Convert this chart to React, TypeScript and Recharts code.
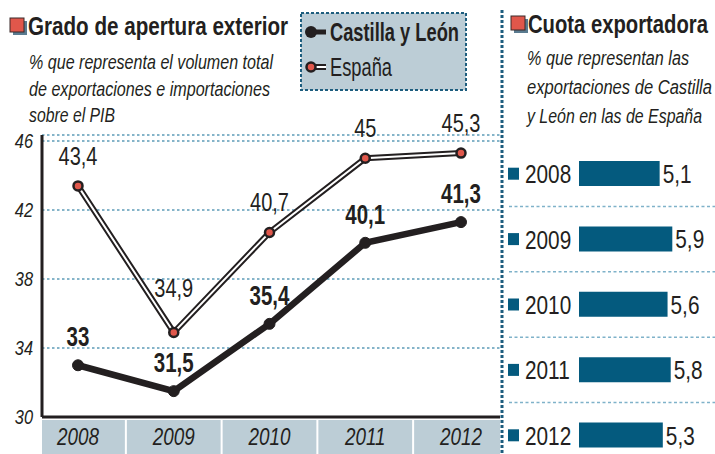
import React from 'react';
import { LineChart, Line, XAxis, YAxis, CartesianGrid, LabelList, Legend, BarChart, Bar } from 'recharts';

// ---------- data ----------
const years = ['2008', '2009', '2010', '2011', '2012'];
const castillaLeon = [33, 31.5, 35.4, 40.1, 41.3];
const espana = [43.4, 34.9, 40.7, 45, 45.3];
const yTicks = [30, 34, 38, 42, 46];
const cuotaYears = ['2008', '2009', '2010', '2011', '2012'];
const cuota = [5.1, 5.9, 5.6, 5.8, 5.3];

const lineData = years.map((y, i) => ({ year: y, cyl: castillaLeon[i], esp: espana[i] }));
const barData = cuotaYears.map((y, i) => ({ year: y, cuota: cuota[i] }));

// ---------- style ----------
const FONT = "'Liberation Sans', Arial, Helvetica, sans-serif";
const DARK = '#231f20';
const RED = '#e0574b';
const BLUE = '#045a7e';
const BAND_BG = '#bccdd6';
const GRID = '#5e9cb8';
const SEP = '#1d5d7e';
const NARROW = 0.82;
const FIT = 0.7;

const fmt = (v: number) => String(v).replace('.', ',');

// left chart layout
const L_W = 500;
const L_H = 454;
const L_LEFT = 42;
const L_TOP = 135;
const X_AXIS_H = 37;
const PAD_L = 36;
const PAD_R = 39;
const STEP = (L_W - L_LEFT - PAD_L - PAD_R) / (years.length - 1);

// right chart layout
const R_LEFT = 503;
const R_TOP = 141;
const R_W = 212;
const R_H = 327;
const R_BAND = R_H / cuotaYears.length;

type TP = {
  x: number;
  y: number;
  size: number;
  bold?: boolean;
  italic?: boolean;
  anchor?: 'start' | 'middle' | 'end';
  sx?: number;
  len?: number;
  children: any;
};

// condensed text: horizontally compressed real text, optionally fitted to an on-screen width
const T = ({ x, y, size, bold, italic, anchor = 'start', sx, len, children }: TP) => {
  const s = sx ?? (len ? FIT : NARROW);
  return (
    <text
      transform={`translate(${x},${y}) scale(${s},1)`}
      x={0}
      y={0}
      textAnchor={anchor}
      fontSize={size}
      fontWeight={bold ? 'bold' : 'normal'}
      fontStyle={italic ? 'italic' : 'normal'}
      fontFamily={FONT}
      fill={DARK}
      textLength={len ? len / s : undefined}
      lengthAdjust={len ? 'spacingAndGlyphs' : undefined}
    >
      {children}
    </text>
  );
};

const XTick = (props: any) => {
  const { x, y, payload } = props;
  const left = Math.max(L_LEFT, x - STEP / 2 + 1);
  const right = Math.min(L_W, x + STEP / 2 - 1);
  return (
    <g>
      <rect x={left} y={y + 3} width={right - left} height={X_AXIS_H - 3} fill={BAND_BG} />
      <T x={x} y={y + 28} size={23} italic anchor="middle">
        {payload.value}
      </T>
    </g>
  );
};

const YTick = (props: any) => {
  const { x, y, payload } = props;
  return (
    <T x={x} y={y + 7} size={20} italic anchor="end">
      {payload.value}
    </T>
  );
};

const makeLabel = (values: number[], bold: boolean) => (props: any) => {
  const { x, y, index } = props;
  const v = values[index];
  const prev = values[index - 1];
  const next = values[index + 1];
  const isMin = prev !== undefined && next !== undefined && v < prev && v < next;
  const off = bold ? 29 : isMin ? 44 : 30;
  const fs = bold ? 27 : 25;
  return (
    <T x={x} y={y - off + fs * 0.36} size={fs} bold={bold} anchor="middle" sx={bold ? 0.76 : 0.8}>
      {fmt(v)}
    </T>
  );
};

const LegendBox = () => (
  <svg width={167} height={79} style={{ display: 'block' }}>
    <rect x={1} y={1} width={165} height={77} fill={BAND_BG} stroke={SEP} strokeWidth={2} strokeDasharray="3 2" />
    <line x1={11} x2={26} y1={20} y2={20} stroke={DARK} strokeWidth={5} />
    <circle cx={11} cy={20} r={6} fill={DARK} />
    <T x={30} y={29} size={25} bold len={129}>Castilla y León</T>
    <line x1={11} x2={26} y1={55} y2={55} stroke={DARK} strokeWidth={6} />
    <line x1={11} x2={26} y1={55} y2={55} stroke="#ffffff" strokeWidth={2} />
    <circle cx={11} cy={55} r={4.5} fill={RED} stroke={DARK} strokeWidth={2.5} />
    <T x={30} y={64} size={25} len={62}>España</T>
  </svg>
);

const CuotaTick = (props: any) => {
  const { y, payload, index } = props;
  return (
    <g>
      {index > 0 && (
        <line x1={6} x2={R_W} y1={y - R_BAND / 2} y2={y - R_BAND / 2} stroke="#7fb2c9" strokeWidth={1.5} strokeDasharray="3 2.5" />
      )}
      <rect x={5} y={y - 6} width={11} height={12} fill={BLUE} />
      <T x={22} y={y + 9.5} size={26} sx={0.8}>
        {payload.value}
      </T>
    </g>
  );
};

const BarValue = (props: any) => {
  const { x, y, width, height, value } = props;
  return (
    <T x={x + width + 3} y={y + height / 2 + 9.5} size={26} sx={0.8}>
      {fmt(value)}
    </T>
  );
};

const TitleSquare = ({ x, y }: { x: number; y: number }) => (
  <g>
    <rect x={x + 3} y={y + 3} width={14} height={14} fill="#5a7b90" />
    <rect x={x} y={y} width={14} height={14} fill={RED} stroke="#3a2a2a" strokeWidth={1} />
  </g>
);

export default function App() {
  return (
    <div style={{ position: 'absolute', left: 0, top: 0, width: 715, height: 454, overflow: 'hidden', background: '#ffffff' }}>
      <svg width={715} height={454} style={{ position: 'absolute', left: 0, top: 0 }}>
        <TitleSquare x={10} y={18} />
        <T x={28} y={35} size={25} bold len={260}>Grado de apertura exterior</T>
        <T x={29} y={69} size={20} italic len={244}>% que representa el volumen total</T>
        <T x={29} y={96} size={20} italic len={241}>de exportaciones e importaciones</T>
        <T x={29} y={122} size={20} italic len={86}>sobre el PIB</T>
        <TitleSquare x={511} y={16} />
        <T x={528} y={33} size={25} bold len={180}>Cuota exportadora</T>
        <T x={527} y={65} size={21} italic len={162}>% que representan las</T>
        <T x={527} y={94} size={21} italic len={185}>exportaciones de Castilla</T>
        <T x={527} y={123} size={21} italic len={175}>y León en las de España</T>
        <line x1={502} x2={502} y1={10} y2={454} stroke={SEP} strokeWidth={3} strokeDasharray="3 2" />
      </svg>

      <div style={{ position: 'absolute', left: 0, top: 0 }}>
        <LineChart width={L_W} height={L_H} data={lineData} margin={{ top: L_TOP, right: 0, bottom: 0, left: 0 }}>
          <CartesianGrid horizontal vertical={false} stroke={GRID} strokeWidth={1.5} strokeDasharray="2.5 2.5" />
          <XAxis
            dataKey="year"
            type="category"
            height={X_AXIS_H}
            padding={{ left: PAD_L, right: PAD_R }}
            axisLine={{ stroke: DARK, strokeWidth: 3 }}
            tickLine={false}
            tickSize={0}
            tickMargin={0}
            tick={<XTick />}
            interval={0}
          />
          <YAxis
            type="number"
            domain={[30, 46.35]}
            ticks={yTicks}
            width={L_LEFT}
            axisLine={{ stroke: DARK, strokeWidth: 3 }}
            tickLine={false}
            tickSize={0}
            tickMargin={9}
            tick={<YTick />}
            allowDataOverflow
          />
          <Legend
            layout="horizontal"
            verticalAlign="middle"
            align="center"
            content={() => <LegendBox />}
            wrapperStyle={{ left: 300, top: 12, width: 167, height: 79 }}
          />
          <Line dataKey="esp" stroke={DARK} strokeWidth={6} dot={false} isAnimationActive={false} legendType="none" />
          <Line
            dataKey="esp"
            stroke="#ffffff"
            strokeWidth={2}
            dot={{ r: 4.5, fill: RED, stroke: DARK, strokeWidth: 2.5 }}
            isAnimationActive={false}
            legendType="none"
          >
            <LabelList dataKey="esp" content={makeLabel(espana, false)} />
          </Line>
          <Line
            dataKey="cyl"
            stroke={DARK}
            strokeWidth={6.5}
            dot={{ r: 5.5, fill: DARK, stroke: DARK, strokeWidth: 1 }}
            isAnimationActive={false}
            legendType="none"
          >
            <LabelList dataKey="cyl" content={makeLabel(castillaLeon, true)} />
          </Line>
        </LineChart>
      </div>

      <div style={{ position: 'absolute', left: R_LEFT, top: R_TOP }}>
        <BarChart
          width={R_W}
          height={R_H}
          data={barData}
          layout="vertical"
          margin={{ top: 0, right: 0, bottom: 0, left: 0 }}
        >
          <XAxis type="number" domain={[0, 8.6]} hide allowDataOverflow />
          <YAxis
            type="category"
            dataKey="year"
            width={76}
            axisLine={false}
            tickLine={false}
            tick={<CuotaTick />}
            interval={0}
          />
          <Bar dataKey="cuota" fill={BLUE} barSize={25} isAnimationActive={false}>
            <LabelList dataKey="cuota" content={<BarValue />} />
          </Bar>
        </BarChart>
      </div>
    </div>
  );
}
